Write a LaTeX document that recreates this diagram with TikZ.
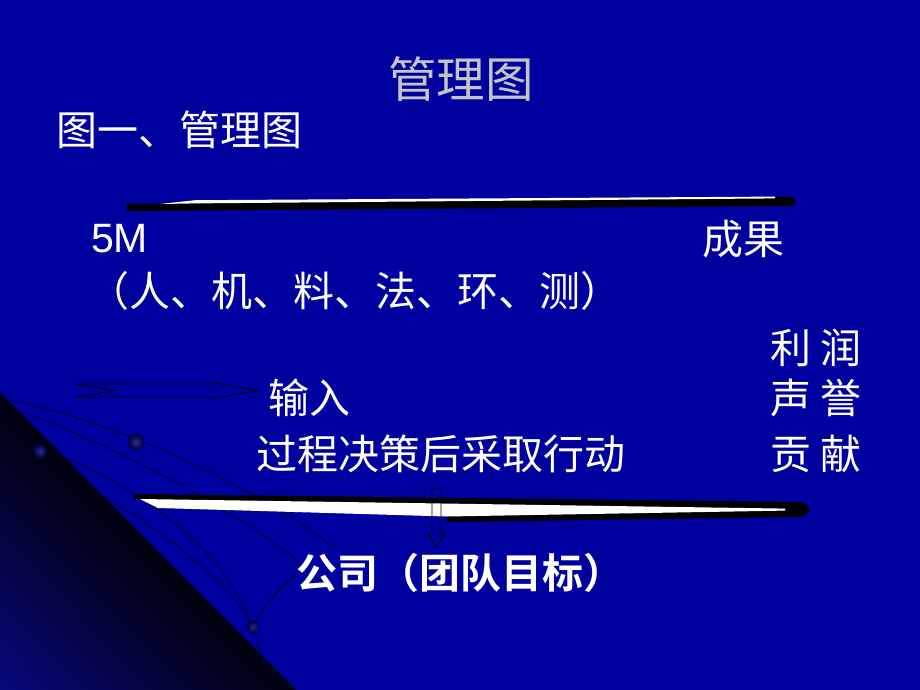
\documentclass[tikz,border=0pt]{standalone}
\usepackage{fontspec}
\newfontfamily\cjk{Noto Sans CJK SC}
\newfontfamily\cjkb{Noto Sans CJK SC Bold}
\newfontfamily\arialf{Liberation Sans}
\definecolor{bgblue}{RGB}{0,0,158}
\definecolor{deepnavy}{RGB}{0,0,16}
\definecolor{lowblue}{RGB}{8,8,128}
\definecolor{curvecol}{RGB}{0,0,55}
\definecolor{orbin}{RGB}{40,40,150}
\definecolor{orbout}{RGB}{0,0,50}
\definecolor{titlegray}{RGB}{196,196,196}
\tikzset{
  bodytext/.style={anchor=base west, text=white, inner sep=0pt, font=\cjk\fontsize{41pt}{41pt}\selectfont},
  titletext/.style={anchor=base, text=titlegray, inner sep=0pt, font=\cjk\fontsize{48.5pt}{48.5pt}\selectfont},
  thincurve/.style={draw=curvecol, line width=0.8pt},
  orb/.style={inner color=orbin, outer color=orbout},
  outlinearrow/.style={draw=black, line width=0.8pt, line join=miter}
}
\begin{document}
\begin{tikzpicture}[x=1pt,y=-1pt]
\useasboundingbox (0,0) rectangle (920,690);
\fill[bgblue] (0,0) rectangle (920,690);
% dark triangle in the lower left corner, graded away from its long edge
\begin{scope}
\clip (0,392) -- (296,690) -- (0,690) -- cycle;
\foreach \k in {0,...,42}{
  \pgfmathsetmacro\da{\k*5}
  \pgfmathsetmacro\db{\k*5+5.6}
  \pgfmathsetmacro\cc{100*(\k/42)^1.1}
  \fill[lowblue!\cc!deepnavy]
    ({-0.7095*\da-0.7048*400},{392+0.7048*\da-0.7095*400}) --
    ({-0.7095*\da+0.7048*600},{392+0.7048*\da+0.7095*600}) --
    ({-0.7095*\db+0.7048*600},{392+0.7048*\db+0.7095*600}) --
    ({-0.7095*\db-0.7048*400},{392+0.7048*\db-0.7095*400}) -- cycle;
}
\end{scope}
% thin curves
\draw[thincurve] (0,398) .. controls (80,412) and (230,468) .. (335,548);
\draw[thincurve] (22,412) .. controls (100,440) and (250,512) .. (325,585);
\draw[thincurve] (0,437) .. controls (70,450) and (215,520) .. (253,627);
\draw[thincurve] (253,627) -- (272,690);
\draw[thincurve] (60,472) .. controls (150,520) and (225,575) .. (253,627);
\draw[thincurve] (253,627) .. controls (265,600) and (285,585) .. (312,558);
\shade[orb] (136,442) circle (8);
\shade[orb] (40,451) circle (7);
\shade[orb] (253,627) circle (6);
% upper bar
\fill[black] (127,204) -- (790,197) .. controls (797,197) and (797,206) .. (790,206) -- (127,211) -- cycle;
\fill[white] (160,204) -- (195,200.2) -- (775,196.6) -- (775,198.4) -- (195,203.4) -- cycle;
% lower bar
\fill[black] (134,494) -- (798,502) .. controls (813,503) and (813,516) .. (798,517) -- (447,522) -- (447,516) -- (158,508) -- (140,499) -- (134,499) -- cycle;
\fill[white] (140,499) -- (785,508.6) -- (785,510.6) -- (447,516.5) -- (158,508) -- cycle;
% notched right arrow
\draw[outlinearrow] (76,384) -- (213,384) -- (213,382.5) -- (258,390.5) -- (213,398.5) -- (213,397) -- (76,397) -- (115,390.5) -- cycle;
% down arrow
\draw[outlinearrow] (432,489) -- (441,489) -- (441,533) -- (445,533) -- (436.5,547) -- (428,533) -- (432,533) -- cycle;
% texts
\node[titletext] (title) at (461,98) {管理图};
\node[bodytext] (sub) at (56,146) {图一、管理图};
\node[bodytext, font=\arialf\fontsize{41pt}{41pt}\selectfont] (fivem) at (91,252) {5M};
\node[bodytext] (result) at (702,254) {成果};
\node[bodytext] (items) at (88,306) {（人、机、料、法、环、测）};
\node[bodytext] (profit) at (770,363) {利 润};
\node[bodytext] (input) at (268,413) {输入};
\node[bodytext] (fame) at (770,413) {声 誉};
\node[bodytext] (process) at (256,469) {过程决策后采取行动};
\node[bodytext] (contrib) at (770,469) {贡 献};
\node[bodytext, font=\cjkb\fontsize{41pt}{41pt}\selectfont] (company) at (296,588) {公司（团队目标）};
\end{tikzpicture}
\end{document}
